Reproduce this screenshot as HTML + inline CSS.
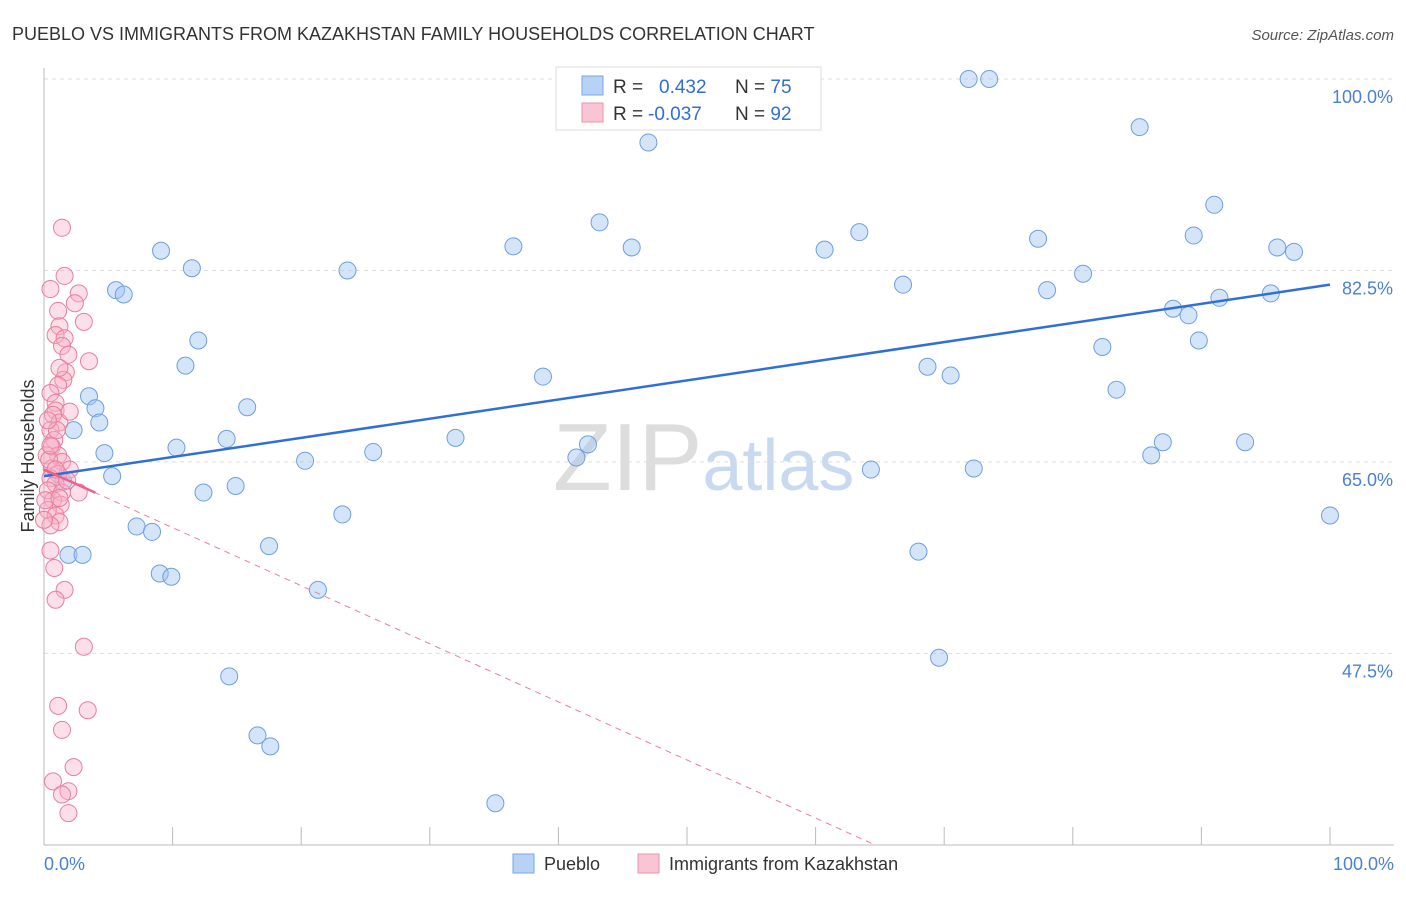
<!DOCTYPE html>
<html><head><meta charset="utf-8"><style>
body{margin:0;background:#fff;font-family:"Liberation Sans",sans-serif;}
svg text{font-family:"Liberation Sans",sans-serif;}
</style></head><body>
<svg id="chart" width="1406" height="892" xmlns="http://www.w3.org/2000/svg">
<text x="12" y="40" font-size="18" fill="#333">PUEBLO VS IMMIGRANTS FROM KAZAKHSTAN FAMILY HOUSEHOLDS CORRELATION CHART</text>
<text x="1394" y="40" font-size="15" fill="#555" font-style="italic" text-anchor="end">Source: ZipAtlas.com</text>
<text x="553" y="490" font-size="96" fill="#ddd" font-family="Liberation Serif">ZIP<tspan fill="#c9d9f0" font-family="Liberation Sans" font-size="72">atlas</tspan></text>
<g id="grid"></g>
<g id="axes"></g>
<g id="marks"></g>
<text transform="translate(34,456) rotate(-90)" font-size="18" fill="#333" text-anchor="middle">Family Households</text>
<text x="44" y="870" font-size="18" fill="#4a80d8">0.0%</text>
<text x="1394" y="870" font-size="18" fill="#4a80d8" text-anchor="end">100.0%</text>
<g>
<rect x="556" y="67" width="265" height="63" fill="#fff" stroke="#ddd"/>
<rect x="582" y="76" width="21" height="19" fill="#b8d2f5" stroke="#7aa6e3"/>
<rect x="582" y="103" width="21" height="19" fill="#f9c4d3" stroke="#ec93b0"/>
<text x="613" y="93" font-size="19" fill="#333">R = <tspan fill="#2f6fd6" x="659">0.432</tspan><tspan x="735">N = </tspan><tspan fill="#2f6fd6">75</tspan></text>
<text x="613" y="120" font-size="19" fill="#333">R = <tspan fill="#2f6fd6" x="648">-0.037</tspan><tspan x="735">N = </tspan><tspan fill="#2f6fd6">92</tspan></text>
</g>
<g>
<rect x="513" y="854" width="21" height="19" fill="#b8d2f5" stroke="#7aa6e3"/>
<text x="544" y="870" font-size="18" fill="#333">Pueblo</text>
<rect x="638" y="854" width="21" height="19" fill="#f9c4d3" stroke="#ec93b0"/>
<text x="669" y="870" font-size="18" fill="#333">Immigrants from Kazakhstan</text>
</g>
</svg>
<script>
const yTicks=[100,82.5,65,47.5];
const yTickLabels=["100.0%","82.5%","65.0%","47.5%"];
const xTicks=[0,10,20,30,40,50,60,70,80,90,100];
const blueX=[59.6,71.9,73.5,85.2,47.0,43.2,91.0,36.5,45.7,63.4,60.7,77.3,89.4,95.9,97.2,9.1,11.5,23.6,5.6,6.2,66.8,78.0,80.8,91.4,95.4,87.8,89.0,12.0,11.0,82.3,89.8,38.8,68.7,70.5,83.4,3.5,4.0,15.8,4.3,2.3,14.2,32.0,25.6,10.3,4.7,20.3,42.3,41.4,87.0,86.1,93.4,64.3,72.3,5.3,14.9,12.4,23.2,100,7.2,8.4,17.5,1.9,3.0,68.0,9.0,9.9,21.3,69.6,14.4,16.6,17.6,35.1,1.5];
const blueY=[100,100,100,95.6,94.2,86.9,88.5,84.7,84.6,86.0,84.4,85.4,85.7,84.6,84.2,84.3,82.7,82.5,80.7,80.3,81.2,80.7,82.2,80.0,80.4,79.0,78.4,76.1,73.8,75.5,76.1,72.8,73.7,72.9,71.6,71.0,69.9,70.0,68.6,67.9,67.1,67.2,65.9,66.3,65.8,65.1,66.6,65.4,66.8,65.6,66.8,64.3,64.4,63.7,62.8,62.2,60.2,60.1,59.1,58.6,57.3,56.5,56.5,56.8,54.8,54.5,53.3,47.1,45.4,40.0,39.0,33.8,63.2];
const pinkX=[1.4,1.6,0.5,2.7,2.4,1.1,3.1,1.2,0.9,1.6,1.4,1.9,3.5,1.7,1.5,1.1,0.5,0.9,0.9,0.7,1.2,0.5,0.8,0.6,1.1,0.2,1.4,0.6,2.0,1.1,0.5,0.9,0.3,1.4,2.7,0.7,1.3,0.3,0.9,1.2,0.5,0.5,0.8,1.6,0.9,3.1,1.1,3.4,1.4,2.3,0.7,1.9,1.4,1.9,0.4,0.9,0.1,1.2,1.8,0.5,1.0,0.3,1.2,2.0,0.0];
const pinkY=[86.4,82.0,80.8,80.4,79.5,78.8,77.8,77.4,76.6,76.3,75.6,74.8,74.2,73.2,72.5,72.0,71.3,70.4,69.7,69.3,68.6,67.9,67.0,66.4,65.6,65.6,65.0,64.4,64.3,63.9,63.5,63.0,62.4,62.2,62.2,61.5,61.1,60.6,60.1,59.5,59.2,56.9,55.3,53.3,52.4,48.1,42.7,42.3,40.5,37.1,35.8,34.9,34.6,32.9,65.2,64.3,61.5,61.7,63.3,66.5,67.9,68.8,73.6,69.6,59.7];
const blueTrend=[63.7,81.2];
const pinkTrend=[64.3,30.0];
const pinkTrendEnd=64.6;
const X=v=>44+v*12.86, Y=v=>79+(100-v)*10.94;
const NS="http://www.w3.org/2000/svg";
function mk(parent,tag,attrs){const e=document.createElementNS(NS,tag);for(const k in attrs)e.setAttribute(k,attrs[k]);document.getElementById(parent).appendChild(e);return e;}
yTicks.forEach((t,i)=>{
  const l=mk("grid","line",{x1:44,x2:1394,y1:Y(t),y2:Y(t),stroke:"#ddd","stroke-dasharray":"4,4"});
  
  
  const tx=mk("grid","text",{x:1393,y:Y(t)+24,"font-size":18,fill:"#4a80d8","text-anchor":"end"});
  tx.textContent=yTickLabels[i];
  
  
});
const ax=mk("axes","line",{x1:44,x2:44,y1:68,y2:845,stroke:"#bbb"});


const bx=mk("axes","line",{x1:44,x2:1394,y1:845,y2:845,stroke:"#bbb"});


xTicks.forEach(t=>{
  const l=mk("axes","line",{x1:X(t),x2:X(t),y1:827,y2:845,stroke:"#bbb"});
  
  
});
blueX.forEach((v,i)=>{
  const c=mk("marks","circle",{cx:X(v),cy:Y(blueY[i]),r:8.5,fill:"rgba(160,196,242,0.45)",stroke:"#6f9fe0","stroke-width":1});
  
  
});
pinkX.forEach((v,i)=>{
  const c=mk("marks","circle",{cx:X(v),cy:Y(pinkY[i]),r:8.5,fill:"rgba(247,176,198,0.4)",stroke:"#e87ea0","stroke-width":1});
  
  
});
const bl=mk("marks","line",{x1:X(0),y1:Y(blueTrend[0]),x2:X(100),y2:Y(blueTrend[1]),stroke:"#2f6fd6","stroke-width":2.5});


const pd=mk("marks","line",{x1:X(0),y1:Y(pinkTrend[0]),x2:X(pinkTrendEnd),y2:Y(pinkTrend[1]),stroke:"#e87ea0","stroke-width":1,"stroke-dasharray":"6,5"});


const slope=(pinkTrend[1]-pinkTrend[0])/pinkTrendEnd;
const ps=mk("marks","line",{x1:X(0),y1:Y(pinkTrend[0]),x2:X(4),y2:Y(pinkTrend[0]+slope*4),stroke:"#e8648f","stroke-width":2.5});


</script>
</body></html>
